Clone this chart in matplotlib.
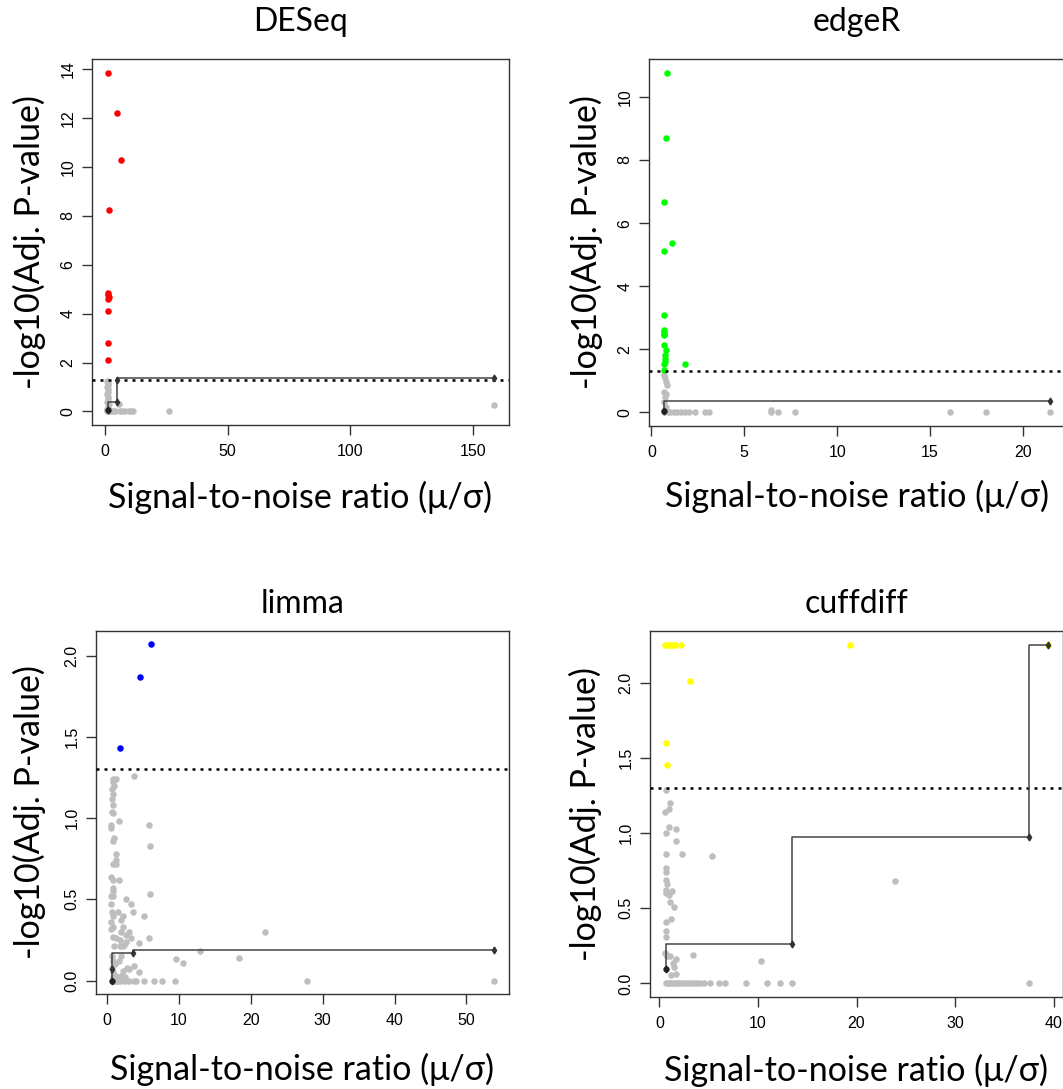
import numpy as np
import matplotlib
matplotlib.use('Agg')
import matplotlib.pyplot as plt

# 라벨 글꼴 (Calibri 비슷한 것), 눈금은 Arial 비슷한 것
label_font = 'Lato'
tick_font = 'Liberation Sans'

titles = ['DESeq', 'edgeR', 'limma', 'cuffdiff']
xlabel = 'Signal-to-noise ratio (μ/σ)'
ylabel = '-log10(Adj. P-value)'
threshold = 1.301  # -log10(0.05)

# ---- DESeq ----
deseq_sig_x = [0.95, 5.0, 6.5, 1.4, 0.95, 1.7, 0.95, 1.3, 0.95, 0.95, 0.95]
deseq_sig_y = [13.87, 12.22, 10.3, 8.25, 4.85, 4.7, 4.6, 4.75, 4.12, 2.8, 2.1]
deseq_ns_x = [0.9, 1.0, 1.2, 0.9, 1.1, 1.3, 0.9, 1.0, 1.2, 0.9, 1.5, 1.0, 0.9, 1.3, 2.0,
              2.5, 3.0, 4.0, 5.6, 6.0, 7.0, 8.0, 9.5, 10.5, 11.5, 26.2, 158.5, 1.5, 1.1, 0.9]
deseq_ns_y = [1.25, 1.18, 1.1, 1.0, 0.92, 0.8, 0.7, 0.6, 0.5, 0.4, 0.3, 0.2, 0.1, 0.05, 0.02,
              0.0, 0.0, 0.0, 0.29, 0.0, 0.0, 0.0, 0.0, 0.0, 0.0, 0.0, 0.27, 0.0, 0.0, 0.0]
deseq_step_x = [0.95, 4.8, 4.8, 158.5]
deseq_step_y = [0.04, 0.40, 1.27, 1.35]

# ---- edgeR ----
edger_sig_x = [0.86, 0.81, 0.7, 1.12, 0.7, 0.7, 0.7, 0.7, 0.7, 0.7, 0.7, 0.8, 0.75, 0.75,
               0.75, 0.7, 1.8, 0.7]
edger_sig_y = [10.77, 8.7, 6.68, 5.36, 5.1, 3.09, 2.6, 2.55, 2.5, 2.45, 2.14, 1.97, 1.81,
               1.7, 1.6, 1.53, 1.55, 1.33]
edger_ns_x = [0.7, 0.75, 0.8, 0.85, 0.7, 0.8, 0.75, 0.7, 0.8, 0.7, 0.9, 1.0, 1.2, 1.4, 1.6,
              1.8, 2.0, 2.37, 2.9, 3.1, 6.42, 6.42, 6.82, 7.72, 16.05, 18.02, 21.43, 0.75]
edger_ns_y = [1.2, 1.1, 0.96, 0.86, 0.65, 0.59, 0.5, 0.33, 0.17, 0.0, 0.0, 0.0, 0.0, 0.0, 0.0,
              0.0, 0.0, 0.0, 0.0, 0.0, 0.09, 0.0, 0.0, 0.0, 0.0, 0.0, 0.0, 0.1]
edger_step_x = [0.7, 21.43]
edger_step_y = [0.05, 0.37]

# ---- limma ----
limma_sig_x = [6.1, 4.63, 1.76]
limma_sig_y = [2.07, 1.87, 1.43]
limma_ns_x = [0.9, 1.2, 0.8, 1.0, 0.7, 0.9, 0.7, 0.8, 0.7, 0.8, 0.6, 0.6, 1.0, 0.8, 1.3,
              1.2, 0.8, 1.2, 0.6, 0.8, 0.8, 0.9, 0.6, 0.9, 0.6, 0.7, 0.8, 0.6, 0.8, 0.6,
              0.9, 1.2, 1.0, 0.7, 0.9, 1.1, 0.7, 0.9, 1.2, 0.8, 1.0, 1.3, 1.6, 2.0, 2.5,
              3.0, 3.7, 1.7, 5.9, 6.0, 1.7, 6.0, 2.6, 3.3, 1.6, 3.6, 2.2, 5.1, 2.0, 2.2,
              1.9, 3.0, 2.6, 3.3, 5.9, 1.8, 2.6, 4.5, 2.4, 1.8, 2.2, 2.0, 1.7, 2.8, 3.7,
              2.2, 3.0, 4.4, 1.9, 2.5, 3.7, 4.0, 5.1, 6.5, 7.7, 9.5, 22.0, 12.9, 18.3, 9.6,
              10.6, 27.8, 53.8]
limma_ns_y = [1.24, 1.24, 1.22, 1.2, 1.18, 1.15, 1.12, 1.08, 1.04, 1.03, 0.96, 0.94, 0.88,
              0.86, 0.78, 0.74, 0.72, 0.72, 0.64, 0.62, 0.57, 0.55, 0.52, 0.52, 0.47, 0.42,
              0.40, 0.36, 0.33, 0.32, 0.27, 0.26, 0.21, 0.15, 0.12, 0.1, 0.08, 0.05, 0.03,
              0.02, 0.0, 0.0, 0.0, 0.0, 0.0, 0.0, 1.26, 0.98, 0.96, 0.83, 0.62, 0.53, 0.50,
              0.47, 0.42, 0.42, 0.40, 0.40, 0.37, 0.33, 0.30, 0.30, 0.28, 0.26, 0.26, 0.25,
              0.24, 0.23, 0.22, 0.21, 0.21, 0.15, 0.12, 0.08, 0.09, 0.06, 0.07, 0.05, 0.03,
              0.02, 0.0, 0.0, 0.0, 0.0, 0.0, 0.0, 0.30, 0.18, 0.14, 0.13, 0.11, 0.0, 0.0]
limma_step_x = [0.65, 0.65, 3.6, 53.8]
limma_step_y = [0.0, 0.07, 0.17, 0.19]

# ---- cuffdiff ----
cuff_sig_x = [0.61, 0.84, 1.05, 1.29, 1.55, 2.23, 19.3, 3.07, 0.68, 0.78, 39.4]
cuff_sig_y = [2.256, 2.256, 2.256, 2.256, 2.256, 2.256, 2.256, 2.016, 1.60, 1.453, 2.256]
cuff_ns_x = [0.71, 1.05, 0.6, 0.95, 0.95, 1.72, 0.71, 1.72, 0.71, 2.3, 5.3, 0.71, 0.71, 0.71,
             0.78, 0.71, 1.28, 0.95, 1.1, 1.52, 0.71, 1.18, 0.71, 0.71, 0.71, 1.1, 1.72, 3.4,
             1.4, 1.47, 1.18, 1.72, 10.3, 23.9, 0.71, 0.6, 0.75,
             0.7, 0.9, 1.1, 1.3, 1.5, 1.7, 1.9, 2.1, 2.3, 2.6, 2.9, 3.2, 3.5, 3.8, 4.1,
             4.5, 5.17, 6.0, 6.7, 8.8, 10.9, 12.25, 13.5, 37.5]
cuff_ns_y = [1.29, 1.2, 1.14, 1.16, 1.04, 1.03, 1.0, 0.95, 0.86, 0.86, 0.85, 0.77, 0.74, 0.69,
             0.66, 0.62, 0.616, 0.587, 0.54, 0.51, 0.41, 0.43, 0.35, 0.31, 0.198, 0.18, 0.165,
             0.19, 0.136, 0.11, 0.053, 0.06, 0.15, 0.685, 0.6, 0.2, 0.18,
             0.0, 0.0, 0.0, 0.0, 0.0, 0.0, 0.0, 0.0, 0.0, 0.0, 0.0, 0.0, 0.0, 0.0, 0.0,
             0.0, 0.0, 0.0, 0.0, 0.0, 0.0, 0.0, 0.0, 0.0]
cuff_step_x = [0.68, 13.5, 37.5, 39.4]
cuff_step_y = [0.093, 0.265, 0.977, 2.256]

panels = [
    (deseq_ns_x, deseq_ns_y, deseq_sig_x, deseq_sig_y, deseq_step_x, deseq_step_y, '#FF0000',
     [0, 50, 100, 150], [0, 2, 4, 6, 8, 10, 12, 14], '{:g}'),
    (edger_ns_x, edger_ns_y, edger_sig_x, edger_sig_y, edger_step_x, edger_step_y, '#00FF00',
     [0, 5, 10, 15, 20], [0, 2, 4, 6, 8, 10], '{:g}'),
    (limma_ns_x, limma_ns_y, limma_sig_x, limma_sig_y, limma_step_x, limma_step_y, '#0000FF',
     [0, 10, 20, 30, 40, 50], [0, 0.5, 1.0, 1.5, 2.0], '{:.1f}'),
    (cuff_ns_x, cuff_ns_y, cuff_sig_x, cuff_sig_y, cuff_step_x, cuff_step_y, '#FFFF00',
     [0, 10, 20, 30, 40], [0, 0.5, 1.0, 1.5, 2.0], '{:.1f}'),
]

# 축 위치 (픽셀 기준으로 읽은 값 -> figure 비율)
W, H = 1063, 1089
boxes = [(92, 59, 509, 425), (649, 59, 1065, 426), (96, 631, 509, 994), (650, 631, 1063, 997)]
ylab_x = [-0.151, -0.151, -0.160, -0.157]
xlab_y = [-0.197, -0.193, -0.209, -0.200]
title_y = [1.101, 1.101, 1.074, 1.074]

fig = plt.figure(figsize=(W / 100, H / 100), dpi=100)

for i, (nx, ny, sx, sy, stx, sty, col, xt, yt, fmt) in enumerate(panels):
    l, t, r, b = boxes[i]
    ax = fig.add_axes([l / W, 1 - b / H, (r - l) / W, (b - t) / H])

    ax.scatter(nx, ny, s=22, color='#BEBEBE', linewidths=0, zorder=2)
    ax.scatter(sx, sy, s=22, color=col, linewidths=0, zorder=3)
    ax.axhline(threshold, color='black', lw=1.8, linestyle=(0, (1.2, 2.0)), zorder=4)
    ax.plot(stx, sty, drawstyle='steps-pre', color='#444444', lw=1.1, zorder=5)
    ax.plot(stx, sty, linestyle='none', marker='d', ms=3.5, color='#333333', zorder=6)
    ax.plot(stx[0], sty[0], linestyle='none', marker='o', ms=3.5, color='#222222', zorder=6)

    # R 기본처럼 양쪽 4% 여백
    allx = nx + sx
    ally = ny + sy
    px = 0.04 * (max(allx) - min(allx))
    py = 0.04 * (max(ally) - min(ally))
    ax.set_xlim(min(allx) - px, max(allx) + px)
    ax.set_ylim(min(ally) - py, max(ally) + py)

    ax.set_xticks(xt)
    ax.set_yticks(yt)
    ax.set_xticklabels(['{:g}'.format(v) for v in xt], fontfamily=tick_font, fontsize=11.5)
    ax.set_yticklabels([fmt.format(v) for v in yt], fontfamily=tick_font, fontsize=11.5,
                       rotation=90, va='center')
    ax.tick_params(length=7, width=1, color='#333333', pad=5)
    ax.tick_params(axis='x', pad=7)
    for sp in ax.spines.values():
        sp.set_color('#333333')
        sp.set_linewidth(1.0)

    ax.set_xlabel(xlabel, fontfamily=label_font, fontsize=24.5)
    ax.xaxis.set_label_coords(0.5, xlab_y[i])
    ax.xaxis.label.set_va('center')
    ax.set_ylabel(ylabel, fontfamily=label_font, fontsize=24.5, va='center')
    ax.yaxis.set_label_coords(ylab_x[i], 0.5)
    ax.text(0.5, title_y[i], titles[i], transform=ax.transAxes, ha='center', va='center',
            fontfamily=label_font, fontsize=23)

fig.savefig('out.png', dpi=100)
